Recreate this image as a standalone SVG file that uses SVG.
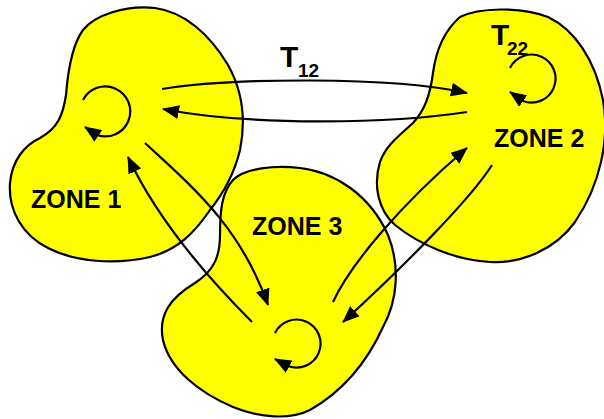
<svg xmlns="http://www.w3.org/2000/svg" width="604" height="419" viewBox="0 0 604 419">
  <style>
    .zone { fill: #ffff00; stroke: #000; stroke-width: 2.2; stroke-linejoin: round; }
    .lbl { font-family: "Liberation Sans", Arial, sans-serif; font-weight: bold; fill: #000; }
    .zname { font-size: 25px; }
    .tmain { font-size: 30px; }
    .tsub { font-size: 19px; }
    .flow { fill: none; stroke: #000; stroke-width: 2.2; marker-end: url(#head); }
  </style>
  <defs>
    <marker id="head" viewBox="0 0 17 14" refX="16" refY="7" markerWidth="17" markerHeight="14" markerUnits="userSpaceOnUse" orient="auto">
      <path d="M0,0 L17,7 L0,14 Z" fill="#000"/>
    </marker>
  </defs>

  <!-- Zone 1 -->
  <g id="zone1">
    <path class="zone" d="M83,30 C95,15 125,5 155,8 C185,12 210,35 228,65 C242,90 246,120 240,150 C234,175 222,195 210,210 C195,232 178,250 150,257 C115,265 75,262 48,248 C22,235 8,210 10,183 C12,160 25,145 40,138 C58,128 63,115 66,95 C68,70 72,45 83,30 Z"/>
    <text class="lbl zname" x="31" y="208">ZONE 1</text>
  </g>

  <!-- Zone 2 -->
  <g id="zone2">
    <path class="zone" d="M460,17 C478,8 520,6 548,17 C575,30 595,60 603,100 C610,140 600,185 575,222 C555,250 520,264 490,262 C455,260 420,245 395,225 C378,210 373,185 380,162 C386,145 400,135 413,123 C425,110 430,95 433,73 C436,50 445,30 460,17 Z"/>
    <text class="lbl zname" x="494" y="147">ZONE 2</text>
  </g>

  <!-- Zone 3 -->
  <g id="zone3">
    <path class="zone" d="M233,180 C245,168 275,165 300,168 C335,172 370,195 388,235 C400,265 398,300 383,327 C368,360 345,390 310,410 C290,420 260,418 233,407 C200,393 170,370 163,340 C158,315 170,298 195,283 C215,270 220,255 220,235 C220,210 222,192 233,180 Z"/>
    <text class="lbl zname" x="252" y="235">ZONE 3</text>
  </g>

  <!-- Flows between and within zones -->
  <g id="connectors">
    <!-- zone 1 <-> zone 2 -->
    <path class="flow" d="M162,89 C230,78 390,76 467,93"/>
    <path class="flow" d="M467,112 C390,124 250,126 163,109"/>
    <!-- zone 1 <-> zone 3 -->
    <path class="flow" d="M145,143 C190,185 240,225 268,305"/>
    <path class="flow" d="M252,322 C215,285 160,225 128,157"/>
    <!-- zone 3 <-> zone 2 -->
    <path class="flow" d="M333,302 C350,265 400,205 467,148"/>
    <path class="flow" d="M492,165 C470,200 400,270 343,322"/>
    <!-- internal loops -->
    <path class="flow" d="M83,100 A25,25 0 1 1 97,135 L85,127"/>
    <path class="flow" d="M510,68 A24,24 0 1 1 523,101 L510,92"/>
    <path class="flow" d="M275,333 A24,24 0 1 1 288,366 L275,359"/>

    <text class="lbl tmain" x="280" y="67">T</text>
    <text class="lbl tsub" x="298" y="77">12</text>
    <text class="lbl tmain" x="491" y="45">T</text>
    <text class="lbl tsub" x="507" y="55">22</text>
  </g>
</svg>
